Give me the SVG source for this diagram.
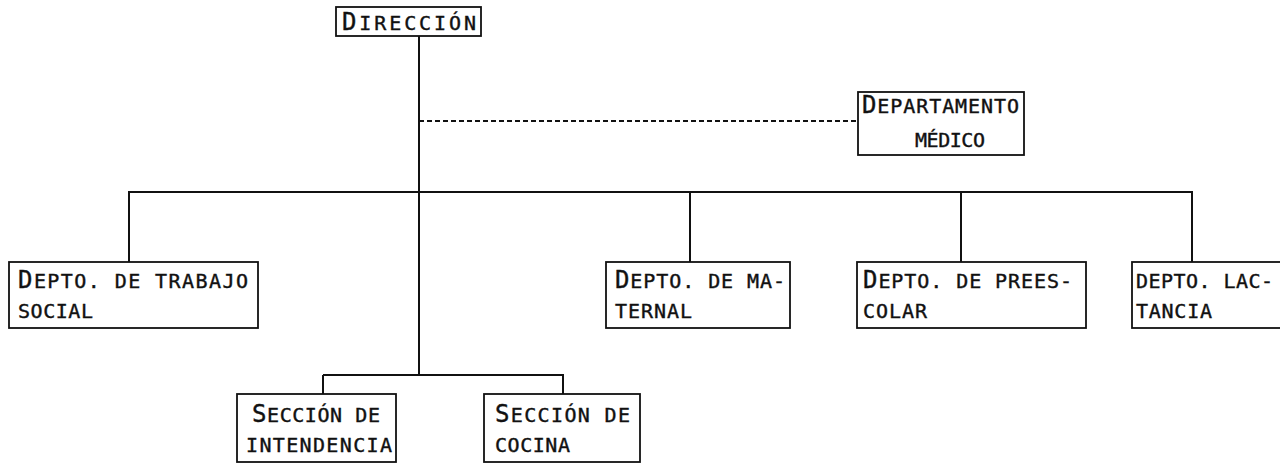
<svg xmlns="http://www.w3.org/2000/svg" width="1280" height="465" viewBox="0 0 1280 465">
<style>
.box{fill:#fff;stroke:#111;stroke-width:1.8}
.ln{fill:none;stroke:#111;stroke-width:2}
.dash{fill:none;stroke:#111;stroke-width:2;stroke-dasharray:5 3}
text{font-family:"DejaVu Sans Mono","Liberation Mono",monospace;font-size:20px;fill:#111;stroke:#111;stroke-width:0.4}
.big{font-size:24px}
</style>
<rect width="1280" height="465" fill="#fff"/>
<g id="connectors">
<line class="ln" x1="419" y1="36" x2="419" y2="375"/>
<line class="dash" x1="419" y1="121" x2="858" y2="121"/>
<line class="ln" x1="128" y1="192" x2="1193" y2="192"/>
<line class="ln" x1="129" y1="192" x2="129" y2="262"/>
<line class="ln" x1="690" y1="192" x2="690" y2="262"/>
<line class="ln" x1="961" y1="192" x2="961" y2="262"/>
<line class="ln" x1="1192" y1="192" x2="1192" y2="262"/>
<line class="ln" x1="323" y1="375" x2="564" y2="375"/>
<line class="ln" x1="323" y1="375" x2="323" y2="394"/>
<line class="ln" x1="563" y1="375" x2="563" y2="394"/>
</g>
<g id="direccion">
<rect class="box" x="336" y="7" width="145" height="29"/>
<text x="342" y="30" textLength="134" lengthAdjust="spacing"><tspan class="big">D</tspan>IRECCIÓN</text>
</g>
<g id="departamento-medico">
<rect class="box" x="858" y="92" width="166" height="63"/>
<text x="862" y="113" textLength="157" lengthAdjust="spacing"><tspan class="big">D</tspan>EPARTAMENTO</text>
<text x="915" y="147" textLength="70" lengthAdjust="spacing">MÉDICO</text>
</g>
<g id="trabajo-social">
<rect class="box" x="9" y="262" width="249" height="66"/>
<text x="18" y="288" textLength="230" lengthAdjust="spacing"><tspan class="big">D</tspan>EPTO. DE TRABAJO</text>
<text x="18" y="318" textLength="75" lengthAdjust="spacing">SOCIAL</text>
</g>
<g id="maternal">
<rect class="box" x="606" y="262" width="184" height="66"/>
<text x="615" y="288" textLength="170" lengthAdjust="spacing"><tspan class="big">D</tspan>EPTO. DE MA-</text>
<text x="615" y="318" textLength="77" lengthAdjust="spacing">TERNAL</text>
</g>
<g id="preescolar">
<rect class="box" x="857" y="262" width="229" height="66"/>
<text x="863" y="288" textLength="209" lengthAdjust="spacing"><tspan class="big">D</tspan>EPTO. DE PREES-</text>
<text x="863" y="318" textLength="64" lengthAdjust="spacing">COLAR</text>
</g>
<g id="lactancia">
<rect class="box" x="1132" y="262" width="152" height="66"/>
<text x="1136" y="288" textLength="137" lengthAdjust="spacing">DEPTO. LAC-</text>
<text x="1136" y="318" textLength="76" lengthAdjust="spacing">TANCIA</text>
</g>
<g id="intendencia">
<rect class="box" x="237" y="394" width="159" height="68"/>
<text x="252" y="422" textLength="128" lengthAdjust="spacing"><tspan class="big">S</tspan>ECCIÓN DE</text>
<text x="246" y="452" textLength="146" lengthAdjust="spacing">INTENDENCIA</text>
</g>
<g id="cocina">
<rect class="box" x="484" y="394" width="156" height="68"/>
<text x="495" y="422" textLength="135" lengthAdjust="spacing"><tspan class="big">S</tspan>ECCIÓN DE</text>
<text x="495" y="452" textLength="75" lengthAdjust="spacing">COCINA</text>
</g>
</svg>
